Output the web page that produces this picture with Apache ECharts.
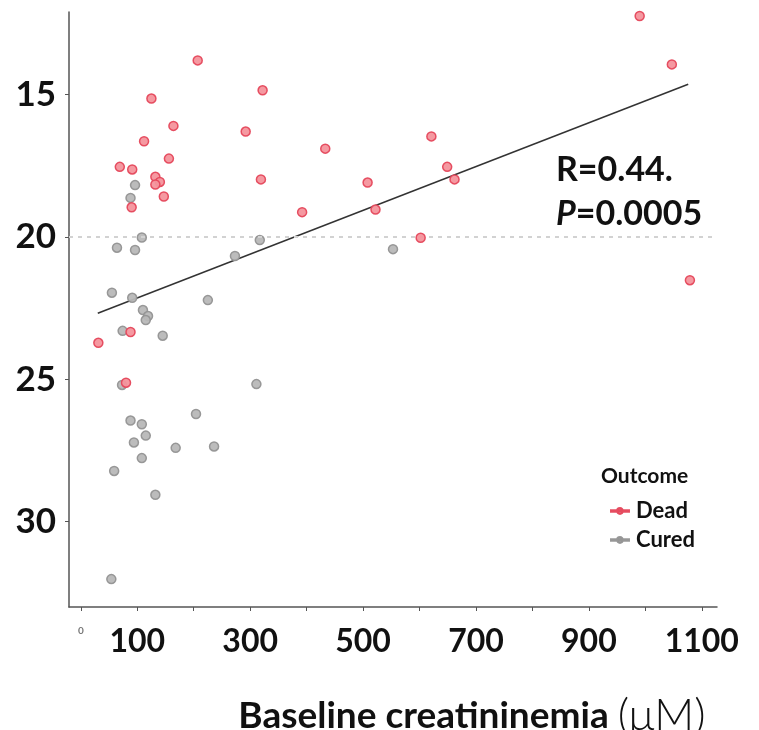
<!DOCTYPE html>
<html>
<head>
<meta charset="utf-8">
<script src="https://cdn.jsdelivr.net/npm/echarts@6/dist/echarts.min.js"></script>
<style>
  html, body { margin: 0; padding: 0; background: #fff; }
  #chart { width: 759px; height: 730px; }
</style>
</head>
<body>
<div id="chart"></div>
<script>
// values
const deadPoints = [
  [207, 13.8], [322, 14.85], [125, 15.14], [164, 16.1], [292, 16.3], [433, 16.9],
  [112, 16.64], [156, 17.25], [69, 17.54], [91, 17.63], [132, 17.89], [140, 18.07],
  [132, 18.16], [319, 17.98], [508, 18.09], [147, 18.58], [90, 18.96], [392, 19.13],
  [522, 19.04], [990, 12.24], [1047, 13.94], [621, 16.47], [649, 17.54], [662, 17.98],
  [602, 20.03], [1079, 21.52], [31, 23.72], [88, 23.34], [80, 25.12]
]
const curedPoints = [
  [96, 18.18], [88, 18.63], [108, 20.02], [64, 20.38], [96, 20.46], [317, 20.11],
  [273, 20.67], [55, 21.96], [91, 22.14], [225, 22.22], [110, 22.57], [119, 22.78],
  [115, 22.92], [553, 20.43], [145, 23.47], [74, 23.3], [73, 25.2], [311, 25.17],
  [204, 26.22], [88, 26.45], [108, 26.58], [115, 26.98], [94, 27.22], [168, 27.41],
  [236, 27.36], [108, 27.77], [59, 28.22], [132, 29.06], [54, 32.02]
]
const fitLine = [[30, 22.68], [1076, 14.64]]
const refLevel = 20
const xTicks = [0, 100, 200, 300, 400, 500, 600, 700, 800, 900, 1000, 1100]
const xLabels = [0, 100, 300, 500, 700, 900, 1100]
const yTicks = [15, 20, 25, 30]
const legendNames = ['Dead', 'Cured']

const FONT = 'Lato, "Liberation Sans", sans-serif'
const chart = echarts.init(document.getElementById('chart'))

const legendIcon = 'path://M0,4 L20,4 L20,5.4 L0,5.4 Z M10,1.4 A3.3,3.3 0 1 1 9.99,1.4 Z'

chart.setOption({
  animation: false,
  textStyle: { fontFamily: FONT },
  title: {
    text: 'Outcome',
    left: 596,
    top: 461,
    textStyle: { fontFamily: FONT, fontSize: 21, fontWeight: 'bold', color: '#111' }
  },
  legend: {
    data: legendNames,
    orient: 'vertical',
    left: 605,
    top: 495,
    itemWidth: 18,
    itemHeight: 7,
    itemGap: 7,
    icon: legendIcon,
    textStyle: { fontFamily: FONT, fontSize: 22, fontWeight: 'bold', color: '#111', padding: [0, 0, 0, 2] }
  },
  grid: { left: 69, right: 42, top: 12, bottom: 123, outerBoundsMode: 'none' },
  xAxis: {
    type: 'value',
    min: -21,
    max: 1127,
    splitLine: { show: false },
    axisLine: { onZero: false, lineStyle: { color: '#555', width: 1.5 } },
    axisTick: { show: true, customValues: xTicks, length: 4, lineStyle: { color: '#555' } },
    axisLabel: {
      customValues: xLabels,
      margin: 19,
      fontFamily: FONT,
      fontSize: 32,
      fontWeight: 'bold',
      color: '#111',
      formatter: v => v === 0 ? '{s|0}' : String(v),
      rich: { s: { fontSize: 10, color: '#777', padding: [0, 0, 38, 0] } }
    },
    name: '{b|Baseline creatininemia }{u|(μM)}',
    nameLocation: 'middle',
    nameGap: 87,
    nameTextStyle: {
      align: 'center',
      rich: {
        b: { fontFamily: FONT, fontSize: 37, fontWeight: 'bold', color: '#111', padding: [0, 0, 0, 158] },
        u: { fontFamily: FONT, fontSize: 44, fontWeight: 300, color: '#111' }
      }
    }
  },
  yAxis: {
    type: 'value',
    inverse: true,
    min: 12.1,
    max: 33,
    splitLine: { show: false },
    axisLine: { onZero: false, lineStyle: { color: '#555', width: 1.5 } },
    axisTick: { show: true, customValues: yTicks, length: 4, lineStyle: { color: '#555' } },
    axisLabel: {
      customValues: yTicks,
      margin: 13,
      fontFamily: FONT,
      fontSize: 35,
      fontWeight: 'bold',
      color: '#111'
    }
  },
  graphic: [{
    type: 'text',
    left: 556,
    top: 153,
    style: {
      text: '{b|R=0.44.}\n{i|P}{b|=0.0005}',
      rich: {
        b: { fontFamily: FONT, fontSize: 34, fontWeight: 'bold', fill: '#111', lineHeight: 44 },
        i: { fontFamily: FONT, fontSize: 34, fontWeight: 'bold', fontStyle: 'italic', fill: '#111', lineHeight: 44 }
      }
    }
  }],
  series: [
    {
      name: 'Reference',
      type: 'line',
      data: [],
      silent: true,
      markLine: {
        silent: true,
        symbol: 'none',
        label: { show: false },
        lineStyle: { color: '#d2d2d2', type: [4, 5], width: 2 },
        data: [{ yAxis: refLevel }]
      }
    },
    {
      name: 'Fit',
      type: 'line',
      data: fitLine,
      showSymbol: false,
      lineStyle: { color: '#333', width: 1.5 },
      z: 3
    },
    {
      name: 'Cured',
      type: 'scatter',
      data: curedPoints,
      symbolSize: 9,
      itemStyle: { color: '#b8b8b8', borderColor: '#949494', borderWidth: 1.5, opacity: 0.95 },
      z: 4
    },
    {
      name: 'Dead',
      type: 'scatter',
      data: deadPoints,
      symbolSize: 9,
      itemStyle: { color: '#f4939c', borderColor: '#e5475b', borderWidth: 1.5, opacity: 0.95 },
      z: 5
    }
  ]
})
</script>
</body>
</html>
